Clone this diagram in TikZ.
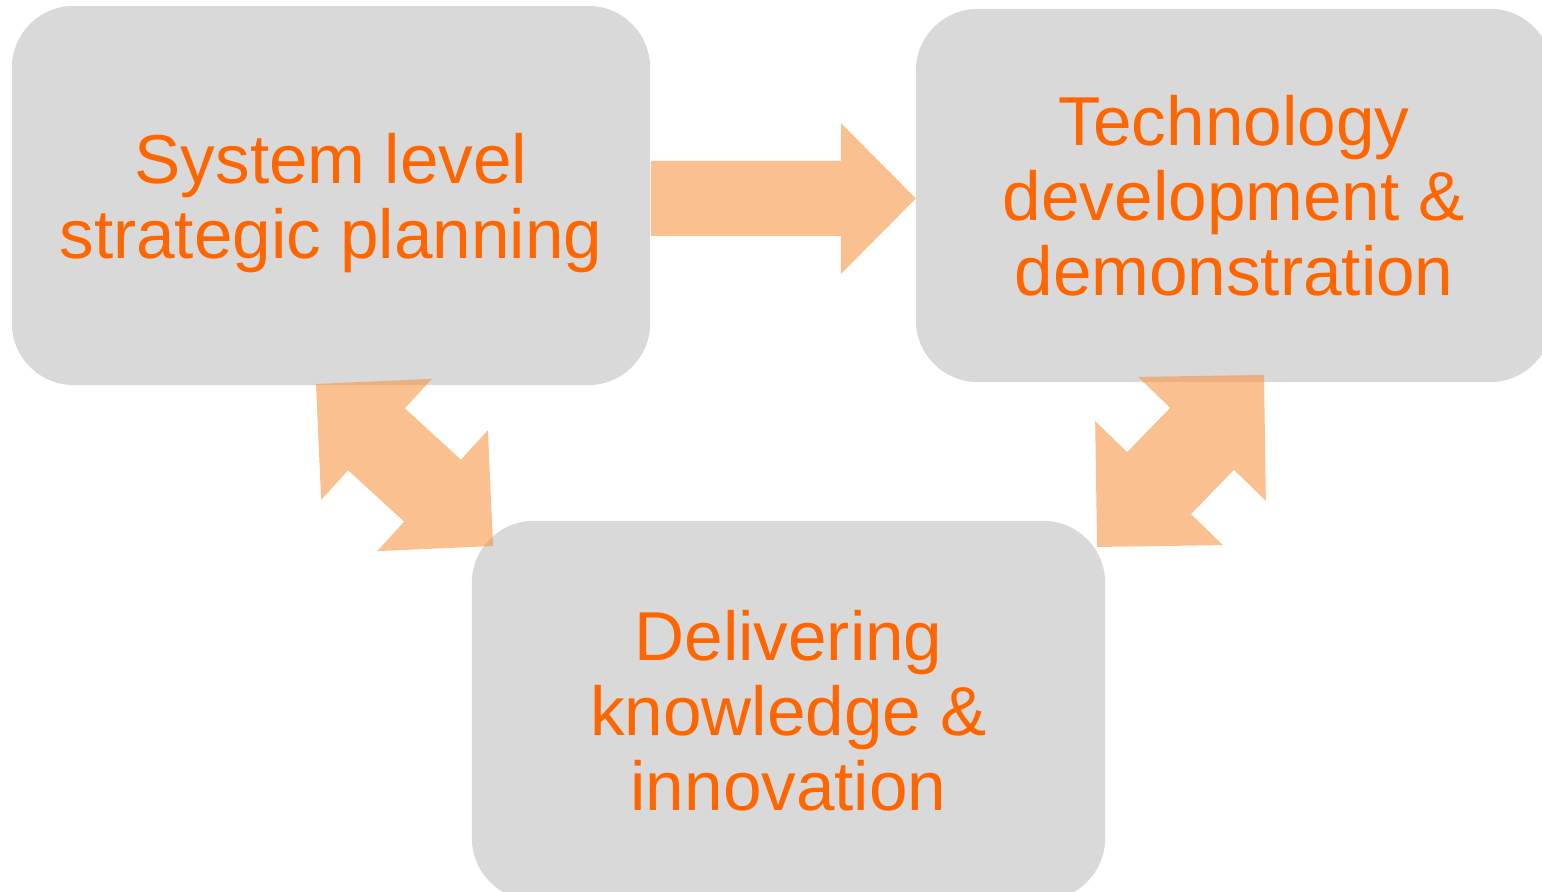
\documentclass[tikz,border=0pt]{standalone}
\usepackage{fontspec}
\setmainfont{Liberation Sans}
\usepackage{tikz}
\usetikzlibrary{calc}

\definecolor{boxgray}{HTML}{D9D9D9}
\definecolor{labelorange}{HTML}{FF6600}
\definecolor{flowfill}{HTML}{F79646}

\tikzset{
  box/.style={
    fill=boxgray,
    rounded corners=0.62cm,
    inner sep=0pt,
    text=labelorange,
    align=center,
    font=\fontsize{19.7pt}{21.3pt}\selectfont},
  flow/.style={
    fill=flowfill,
    fill opacity=0.6}
}

\begin{document}
\begin{tikzpicture}[x=0.01cm, y=-0.01cm]
\useasboundingbox (0,0) rectangle (1542,892);

\node[box, minimum width=6.38cm, minimum height=3.79cm, text depth=0pt]
  (plan) at (331,195.5) {System level\\strategic planning};
\node[box, minimum width=6.36cm, minimum height=3.73cm]
  (tech) at (1234,195.5) {Technology\\development \&\\demonstration};
\node[box, minimum width=6.33cm, minimum height=3.79cm]
  (deliver) at (788.5,710.5) {Delivering\\knowledge \&\\innovation};

\coordinate (planout) at (316,384);
\coordinate (techout) at (1264,375);

% plan -> tech
\begin{scope}[shift={($(plan.east)+(0,3)$)}]
\path[flow]
(0,-37.5) -- (190,-37.5) -- (190,-75.5) -- (265,0)
-- (190,75.5) -- (190,37.5) -- (0,37.5) -- cycle;
\end{scope}

% plan <-> deliver
\begin{scope}[shift={(planout)}, rotate=-42.46]
\path[flow]
(0,0) -- (82,82) -- (82,42) -- (158,42) -- (158,82) -- (240,0)
-- (158,-82) -- (158,-42) -- (82,-42) -- (82,-82) -- cycle;
\end{scope}

% tech <-> deliver
\begin{scope}[shift={(techout)}, rotate=-134.15]
\path[flow]
(0,0) -- (89,89) -- (89,44.5) -- (150.7,44.5) -- (150.7,89) -- (239.7,0)
-- (150.7,-89) -- (150.7,-44.5) -- (89,-44.5) -- (89,-89) -- cycle;
\end{scope}
\end{tikzpicture}
\end{document}
